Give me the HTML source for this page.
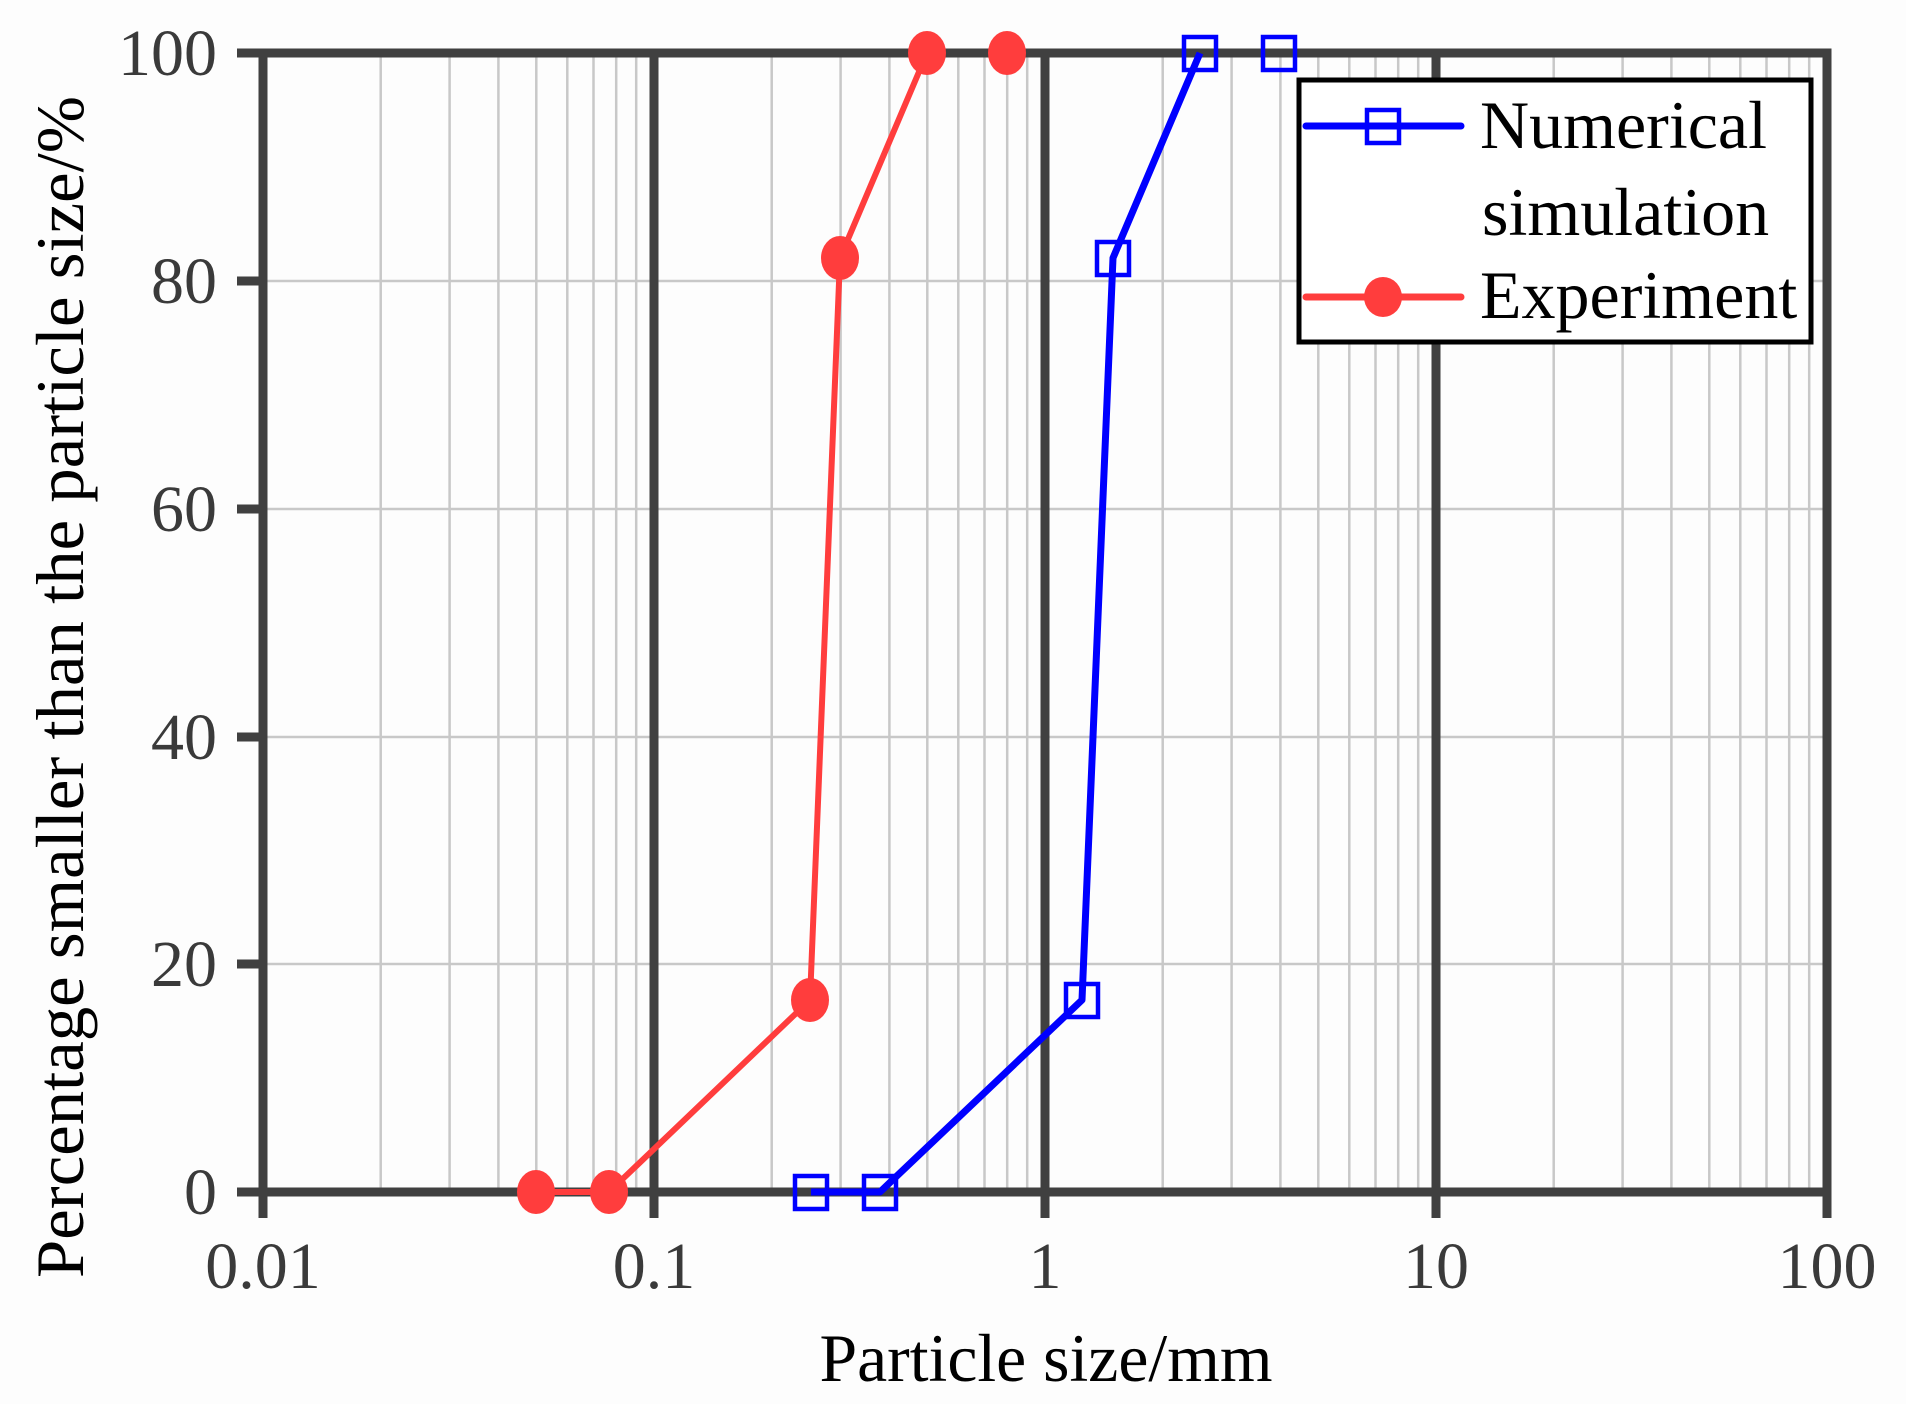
<!DOCTYPE html>
<html><head><meta charset="utf-8"><style>
html,body{margin:0;padding:0;background:#fdfdfd;}
svg{display:block;}
text{font-family:"Liberation Serif",serif;}
</style></head><body>
<svg width="1906" height="1404" viewBox="0 0 1906 1404" xmlns="http://www.w3.org/2000/svg">
<rect width="1906" height="1404" fill="#fdfdfd"/>
<g stroke="#c8c8c8" stroke-width="2.5">
<line x1="380.7" y1="53" x2="380.7" y2="1192"/><line x1="449.6" y1="53" x2="449.6" y2="1192"/><line x1="498.4" y1="53" x2="498.4" y2="1192"/><line x1="536.3" y1="53" x2="536.3" y2="1192"/><line x1="567.3" y1="53" x2="567.3" y2="1192"/><line x1="593.5" y1="53" x2="593.5" y2="1192"/><line x1="616.2" y1="53" x2="616.2" y2="1192"/><line x1="636.2" y1="53" x2="636.2" y2="1192"/>
<line x1="771.7" y1="53" x2="771.7" y2="1192"/><line x1="840.6" y1="53" x2="840.6" y2="1192"/><line x1="889.4" y1="53" x2="889.4" y2="1192"/><line x1="927.3" y1="53" x2="927.3" y2="1192"/><line x1="958.3" y1="53" x2="958.3" y2="1192"/><line x1="984.5" y1="53" x2="984.5" y2="1192"/><line x1="1007.2" y1="53" x2="1007.2" y2="1192"/><line x1="1027.2" y1="53" x2="1027.2" y2="1192"/>
<line x1="1162.7" y1="53" x2="1162.7" y2="1192"/><line x1="1231.6" y1="53" x2="1231.6" y2="1192"/><line x1="1280.4" y1="53" x2="1280.4" y2="1192"/><line x1="1318.3" y1="53" x2="1318.3" y2="1192"/><line x1="1349.3" y1="53" x2="1349.3" y2="1192"/><line x1="1375.5" y1="53" x2="1375.5" y2="1192"/><line x1="1398.2" y1="53" x2="1398.2" y2="1192"/><line x1="1418.2" y1="53" x2="1418.2" y2="1192"/>
<line x1="1553.7" y1="53" x2="1553.7" y2="1192"/><line x1="1622.6" y1="53" x2="1622.6" y2="1192"/><line x1="1671.4" y1="53" x2="1671.4" y2="1192"/><line x1="1709.3" y1="53" x2="1709.3" y2="1192"/><line x1="1740.3" y1="53" x2="1740.3" y2="1192"/><line x1="1766.5" y1="53" x2="1766.5" y2="1192"/><line x1="1789.2" y1="53" x2="1789.2" y2="1192"/><line x1="1809.2" y1="53" x2="1809.2" y2="1192"/>
<line x1="263" y1="281" x2="1827" y2="281"/><line x1="263" y1="509" x2="1827" y2="509"/><line x1="263" y1="737" x2="1827" y2="737"/><line x1="263" y1="964" x2="1827" y2="964"/>
</g>
<g stroke="#404040" stroke-width="9" fill="none">
<line x1="654" y1="53" x2="654" y2="1218"/>
<line x1="1045" y1="53" x2="1045" y2="1218"/>
<line x1="1436" y1="53" x2="1436" y2="1218"/>
<line x1="263" y1="53" x2="263" y2="1218"/>
<line x1="1827" y1="48.5" x2="1827" y2="1218"/>
<line x1="237" y1="53" x2="1831" y2="53"/>
<line x1="237" y1="1192" x2="1831" y2="1192"/>
<line x1="237" y1="281" x2="263" y2="281"/><line x1="237" y1="509" x2="263" y2="509"/><line x1="237" y1="737" x2="263" y2="737"/><line x1="237" y1="964" x2="263" y2="964"/>
</g>
<g fill="#3a3a3a" font-size="66" text-anchor="end">
<text x="217" y="1214">0</text><text x="217" y="986">20</text><text x="217" y="759">40</text><text x="217" y="531">60</text><text x="217" y="303">80</text><text x="217" y="75">100</text>
</g>
<g fill="#3a3a3a" font-size="66" text-anchor="middle">
<text x="263" y="1288">0.01</text><text x="654" y="1288">0.1</text><text x="1045" y="1288">1</text><text x="1436" y="1288">10</text><text x="1827" y="1288">100</text>
</g>
<text x="1046" y="1381" font-size="68" text-anchor="middle" fill="#000" textLength="453" lengthAdjust="spacingAndGlyphs">Particle size/mm</text>
<text transform="translate(83,687) rotate(-90)" font-size="68" text-anchor="middle" fill="#000" textLength="1182" lengthAdjust="spacingAndGlyphs">Percentage smaller than the particle size/%</text>
<polyline points="536,1192 609,1192 810,1000 840,258 927,53" fill="none" stroke="#ff3d3d" stroke-width="6" stroke-linejoin="round"/>
<g fill="#ff3d3d">
<ellipse cx="536" cy="1192" rx="19" ry="22"/><ellipse cx="609" cy="1192" rx="19" ry="22"/><ellipse cx="810" cy="1000" rx="19" ry="22"/><ellipse cx="840" cy="258" rx="19" ry="22"/><ellipse cx="927" cy="53" rx="19" ry="22"/><ellipse cx="1007" cy="53" rx="19" ry="22"/>
</g>
<polyline points="811,1192 880,1192 1082,1000 1113,258 1200,53" fill="none" stroke="#0000ff" stroke-width="7" stroke-linejoin="round"/>
<g fill="none" stroke="#0000ff" stroke-width="4.5">
<rect x="795" y="1176" width="32" height="33"/><rect x="864" y="1176" width="32" height="33"/><rect x="1066" y="984" width="32" height="33"/><rect x="1097" y="242" width="32" height="33"/><rect x="1184" y="37" width="32" height="33"/><rect x="1263" y="37" width="32" height="33"/>
</g>
<rect x="1299" y="80" width="512" height="262" fill="#fff" stroke="#000" stroke-width="5"/>
<line x1="1306" y1="126" x2="1461" y2="126" stroke="#0000ff" stroke-width="7" stroke-linecap="round"/>
<rect x="1367" y="110" width="32" height="33" fill="none" stroke="#0000ff" stroke-width="4.5"/>
<line x1="1306" y1="297" x2="1461" y2="297" stroke="#ff3d3d" stroke-width="7" stroke-linecap="round"/>
<ellipse cx="1383" cy="297" rx="19" ry="20" fill="#ff3d3d"/>
<g font-size="68" fill="#000">
<text x="1480" y="148">Numerical</text><text x="1482" y="235">simulation</text><text x="1480" y="318">Experiment</text>
</g>
</svg>
</body></html>
